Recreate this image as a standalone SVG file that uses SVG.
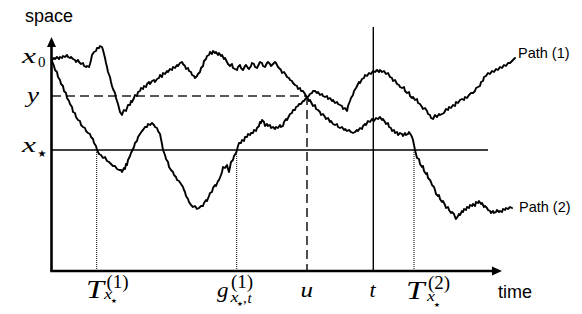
<svg xmlns="http://www.w3.org/2000/svg" width="582" height="314" viewBox="0 0 582 314">
<style>
.axis{stroke:#000;stroke-width:2.6;fill:none}
.thin{stroke:#000;stroke-width:1.4;fill:none}
.dash{stroke:#222;stroke-width:1.6;fill:none;stroke-dasharray:9 5}
.dot{stroke:#000;stroke-width:1;fill:none;stroke-dasharray:1 1}
.bm{stroke:#000;stroke-width:1.9;fill:none;stroke-linejoin:round;stroke-linecap:round}
.sans{font-family:"Liberation Sans",Arial,sans-serif;fill:#000}
.mi{font-family:"Liberation Serif","Times New Roman",serif;font-style:italic;fill:#000}
.mr{font-family:"Liberation Serif","Times New Roman",serif;fill:#000}
.st{font-family:"DejaVu Sans",sans-serif;fill:#000}
</style>
<rect width="582" height="314" fill="#fff"/>
<g id="guides">
<line class="dash" x1="52" y1="96" x2="307" y2="96"/>
<line class="dash" x1="307" y1="96" x2="307" y2="270"/>
<line class="thin" x1="52" y1="150" x2="488" y2="150"/>
<line class="thin" x1="373.3" y1="27" x2="373.3" y2="271"/>
<line class="dot" x1="96.7" y1="150" x2="96.7" y2="270"/>
<line class="dot" x1="236.7" y1="150" x2="236.7" y2="270"/>
<line class="dot" x1="414" y1="150" x2="414" y2="270"/>
</g>
<g id="path1">
<polyline class="bm" points="52,61 54,66 55,70 57,72 58,77 60,80 61,84 63,86 64,91 66,93 67,98 69,101 70,104 72,107 73,112 75,113 76,117 78,120 80,121 81,125 83,127 85,128 86,131 88,133 90,134 91,137 93,139 94,143 96,146 97,150 99,154 101,155 103,158 105,157 107,161 109,162 111,164 113,166 115,166 117,169 119,170 121,170 122,172 124,168 125,169 126,164 127,165 128,160 130,156 131,153 132,151 134,147 135,143 137,141 138,137 140,134 142,131 143,130 145,127 147,127 148,124 150,125 152,123 154,125 155,127 157,128 158,131 160,134 161,139 162,144 163,150 165,155 166,159 168,162 169,167 171,170 173,172 174,175 176,177 177,180 179,181 181,184 183,187 184,190 185,192 186,196 188,199 189,202 191,205 193,207 195,206 197,209 199,208 201,206 203,206 204,203 206,200 207,201 209,196 210,193 212,192 213,188 215,185 216,186 218,181 219,180 221,175 222,172 223,167 225,168 227,165 228,169 229,172 230,167 231,162 233,160 234,156 236,153 237,150 238,146 239,143 241,143 242,140 244,141 245,137 247,137 248,134 250,135 251,133 253,133 254,130 256,131 257,128 259,126 260,122 261,123 262,120 264,122 265,126 267,124 268,126 270,125 271,128 273,127 275,129 276,127 278,128 280,125 281,127 283,126 284,122 286,119 287,120 289,116 290,114 292,113 293,110 295,110 296,107 298,106 299,104 301,104 303,101 304,101 306,98 308,97 310,94 312,93 313,91 315,91 317,93 318,92 320,95 322,94 323,96 325,97 327,96 328,99 330,98 332,101 333,100 335,103 337,102 338,104 340,105 342,106 343,109 345,108 347,111 348,106 350,101 351,98 353,95 354,91 356,88 357,86 359,82 360,83 362,79 364,78 365,75 367,76 369,73 371,74 373,71 375,72 377,70 379,72 380,70 382,72 384,71 386,74 388,73 390,77 392,78 393,81 395,80 397,84 399,85 400,87 402,88 404,87 405,91 407,93 409,92 410,96 412,98 413,97 415,100 417,99 418,103 420,104 422,107 423,109 425,108 427,111 428,114 430,115 431,118 433,119 435,115 437,117 439,114 440,115 442,114 444,113 446,109 448,110 449,107 451,108 453,105 455,106 456,102 458,103 460,100 462,99 464,100 465,97 467,98 469,95 471,93 473,93 475,91 476,88 478,87 480,86 481,82 483,81 484,77 486,76 488,73 490,74 492,71 494,72 496,69 498,70 500,67 502,68 504,65 506,66 508,63 510,63 512,61 515,58"/>
</g>
<g id="path2">
<polyline class="bm" points="52,60 54,58 55,59 57,57 59,59 60,57 62,58 63,56 65,57 67,55 68,57 70,58 71,57 73,59 75,60 76,62 78,60 79,62 81,64 83,63 84,66 86,67 87,66 89,67 90,64 91,60 92,55 94,52 96,51 97,48 99,48 100,46 102,47 103,50 104,54 105,58 106,63 107,67 108,72 110,77 111,82 112,86 113,89 115,93 116,98 117,101 118,104 119,108 120,112 122,115 123,112 124,110 126,111 127,108 128,105 130,105 131,101 132,102 134,98 135,95 137,96 138,92 140,91 141,88 143,89 144,86 146,87 147,84 149,82 150,84 152,81 154,80 155,82 157,79 159,78 160,75 162,77 163,73 165,74 167,71 168,72 170,69 172,70 173,67 175,68 177,65 178,66 180,63 182,62 183,64 185,66 186,69 188,68 189,71 191,72 192,75 194,76 195,78 197,76 198,74 200,72 201,68 203,66 204,61 206,59 207,56 209,55 210,52 212,54 213,51 215,53 216,52 218,55 219,53 221,56 222,55 224,59 225,58 227,62 228,64 230,66 232,64 233,68 235,69 237,70 238,67 240,65 241,68 243,70 245,66 246,65 248,68 249,69 251,66 252,63 254,64 255,67 257,68 259,64 260,62 262,63 263,66 265,67 267,63 268,62 270,64 271,66 273,64 275,62 276,63 278,67 279,68 281,70 282,73 284,72 286,75 287,77 289,78 290,80 292,81 293,83 295,85 297,86 298,89 300,88 301,91 303,91 305,94 306,96 308,99 309,101 310,100 312,104 313,106 315,105 316,109 318,110 320,112 321,115 323,114 325,117 326,119 328,118 330,122 331,121 333,124 335,125 337,124 338,127 340,128 342,127 344,130 345,129 347,131 349,130 351,132 353,133 355,132 357,130 358,131 360,128 362,129 363,126 365,124 366,125 368,121 370,122 372,119 374,121 376,118 378,119 380,117 382,120 383,119 385,122 386,124 388,123 389,127 391,128 392,131 394,130 395,133 397,132 398,135 400,133 402,134 403,136 405,133 406,135 408,134 409,132 411,135 412,137 413,140 414,145 415,150 416,154 417,158 419,159 420,164 422,167 423,166 424,171 426,174 427,173 428,178 430,180 431,182 432,185 434,187 435,190 436,194 438,196 439,195 440,199 442,202 443,201 445,205 446,208 448,207 449,210 451,213 452,212 454,214 455,217 456,219 458,216 459,214 460,215 462,211 463,212 464,209 466,210 467,207 469,208 470,205 472,206 473,204 475,206 476,202 478,203 479,201 481,204 482,203 484,207 485,206 487,208 488,210 490,211 491,213 493,211 494,213 496,212 497,210 499,212 500,211 502,212 503,209 505,210 506,208 508,209 510,207 512,208"/>
</g>
<g id="axes">
<line class="axis" x1="51.5" y1="45" x2="51.5" y2="271"/>
<line class="axis" x1="50.2" y1="271" x2="494" y2="271"/>
<polygon points="51.5,37 56,47 47,47" fill="#000"/>
<polygon points="502,271 492,266.5 492,275.5" fill="#000"/>
</g>
<g id="axis-labels">
<text class="sans" x="25" y="22" font-size="18">space</text>
<text class="sans" x="498" y="298" font-size="18">time</text>
<text class="sans" x="518" y="58" font-size="14.5">Path (1)</text>
<text class="sans" x="519" y="211.5" font-size="14.5">Path (2)</text>
</g>
<g id="y-labels">
<text class="mi" x="22" y="63" font-size="22" textLength="14" lengthAdjust="spacingAndGlyphs">x</text>
<text class="mr" x="38" y="66.5" font-size="15">0</text>
<text class="mi" x="27" y="102" font-size="22" textLength="12" lengthAdjust="spacingAndGlyphs">y</text>
<text class="mi" x="22" y="152" font-size="22" textLength="14" lengthAdjust="spacingAndGlyphs">x</text>
<text class="st" x="42" y="156.5" font-size="10" text-anchor="middle">★</text>
</g>
<g id="x-labels">
<text class="mi" x="86" y="298" font-size="26" textLength="18" lengthAdjust="spacingAndGlyphs">T</text>
<text class="mr" x="106.5" y="287.5" font-size="19">(1)</text>
<text class="mi" x="104" y="298.5" font-size="15" textLength="8" lengthAdjust="spacingAndGlyphs">x</text>
<text class="st" x="114" y="302.8" font-size="6.5" text-anchor="middle">★</text>
<text class="mi" x="217" y="296.5" font-size="21" textLength="11.5" lengthAdjust="spacingAndGlyphs">g</text>
<text class="mr" x="231" y="288" font-size="19">(1)</text>
<text class="mi" x="230.5" y="302" font-size="15" textLength="8" lengthAdjust="spacingAndGlyphs">x</text>
<text class="st" x="240" y="305.8" font-size="6.5" text-anchor="middle">★</text>
<text class="mr" x="243" y="302.5" font-size="15">,</text>
<text class="mi" x="247.5" y="302.5" font-size="15">t</text>
<text class="mi" x="300.5" y="296.7" font-size="22" textLength="12.5" lengthAdjust="spacingAndGlyphs">u</text>
<text class="mi" x="369.5" y="296.7" font-size="22">t</text>
<text class="mi" x="406" y="299" font-size="26" textLength="18.5" lengthAdjust="spacingAndGlyphs">T</text>
<text class="mr" x="428" y="288.5" font-size="19">(2)</text>
<text class="mi" x="427" y="301" font-size="15" textLength="8" lengthAdjust="spacingAndGlyphs">x</text>
<text class="st" x="437" y="306.5" font-size="6.5" text-anchor="middle">★</text>
</g>
</svg>
